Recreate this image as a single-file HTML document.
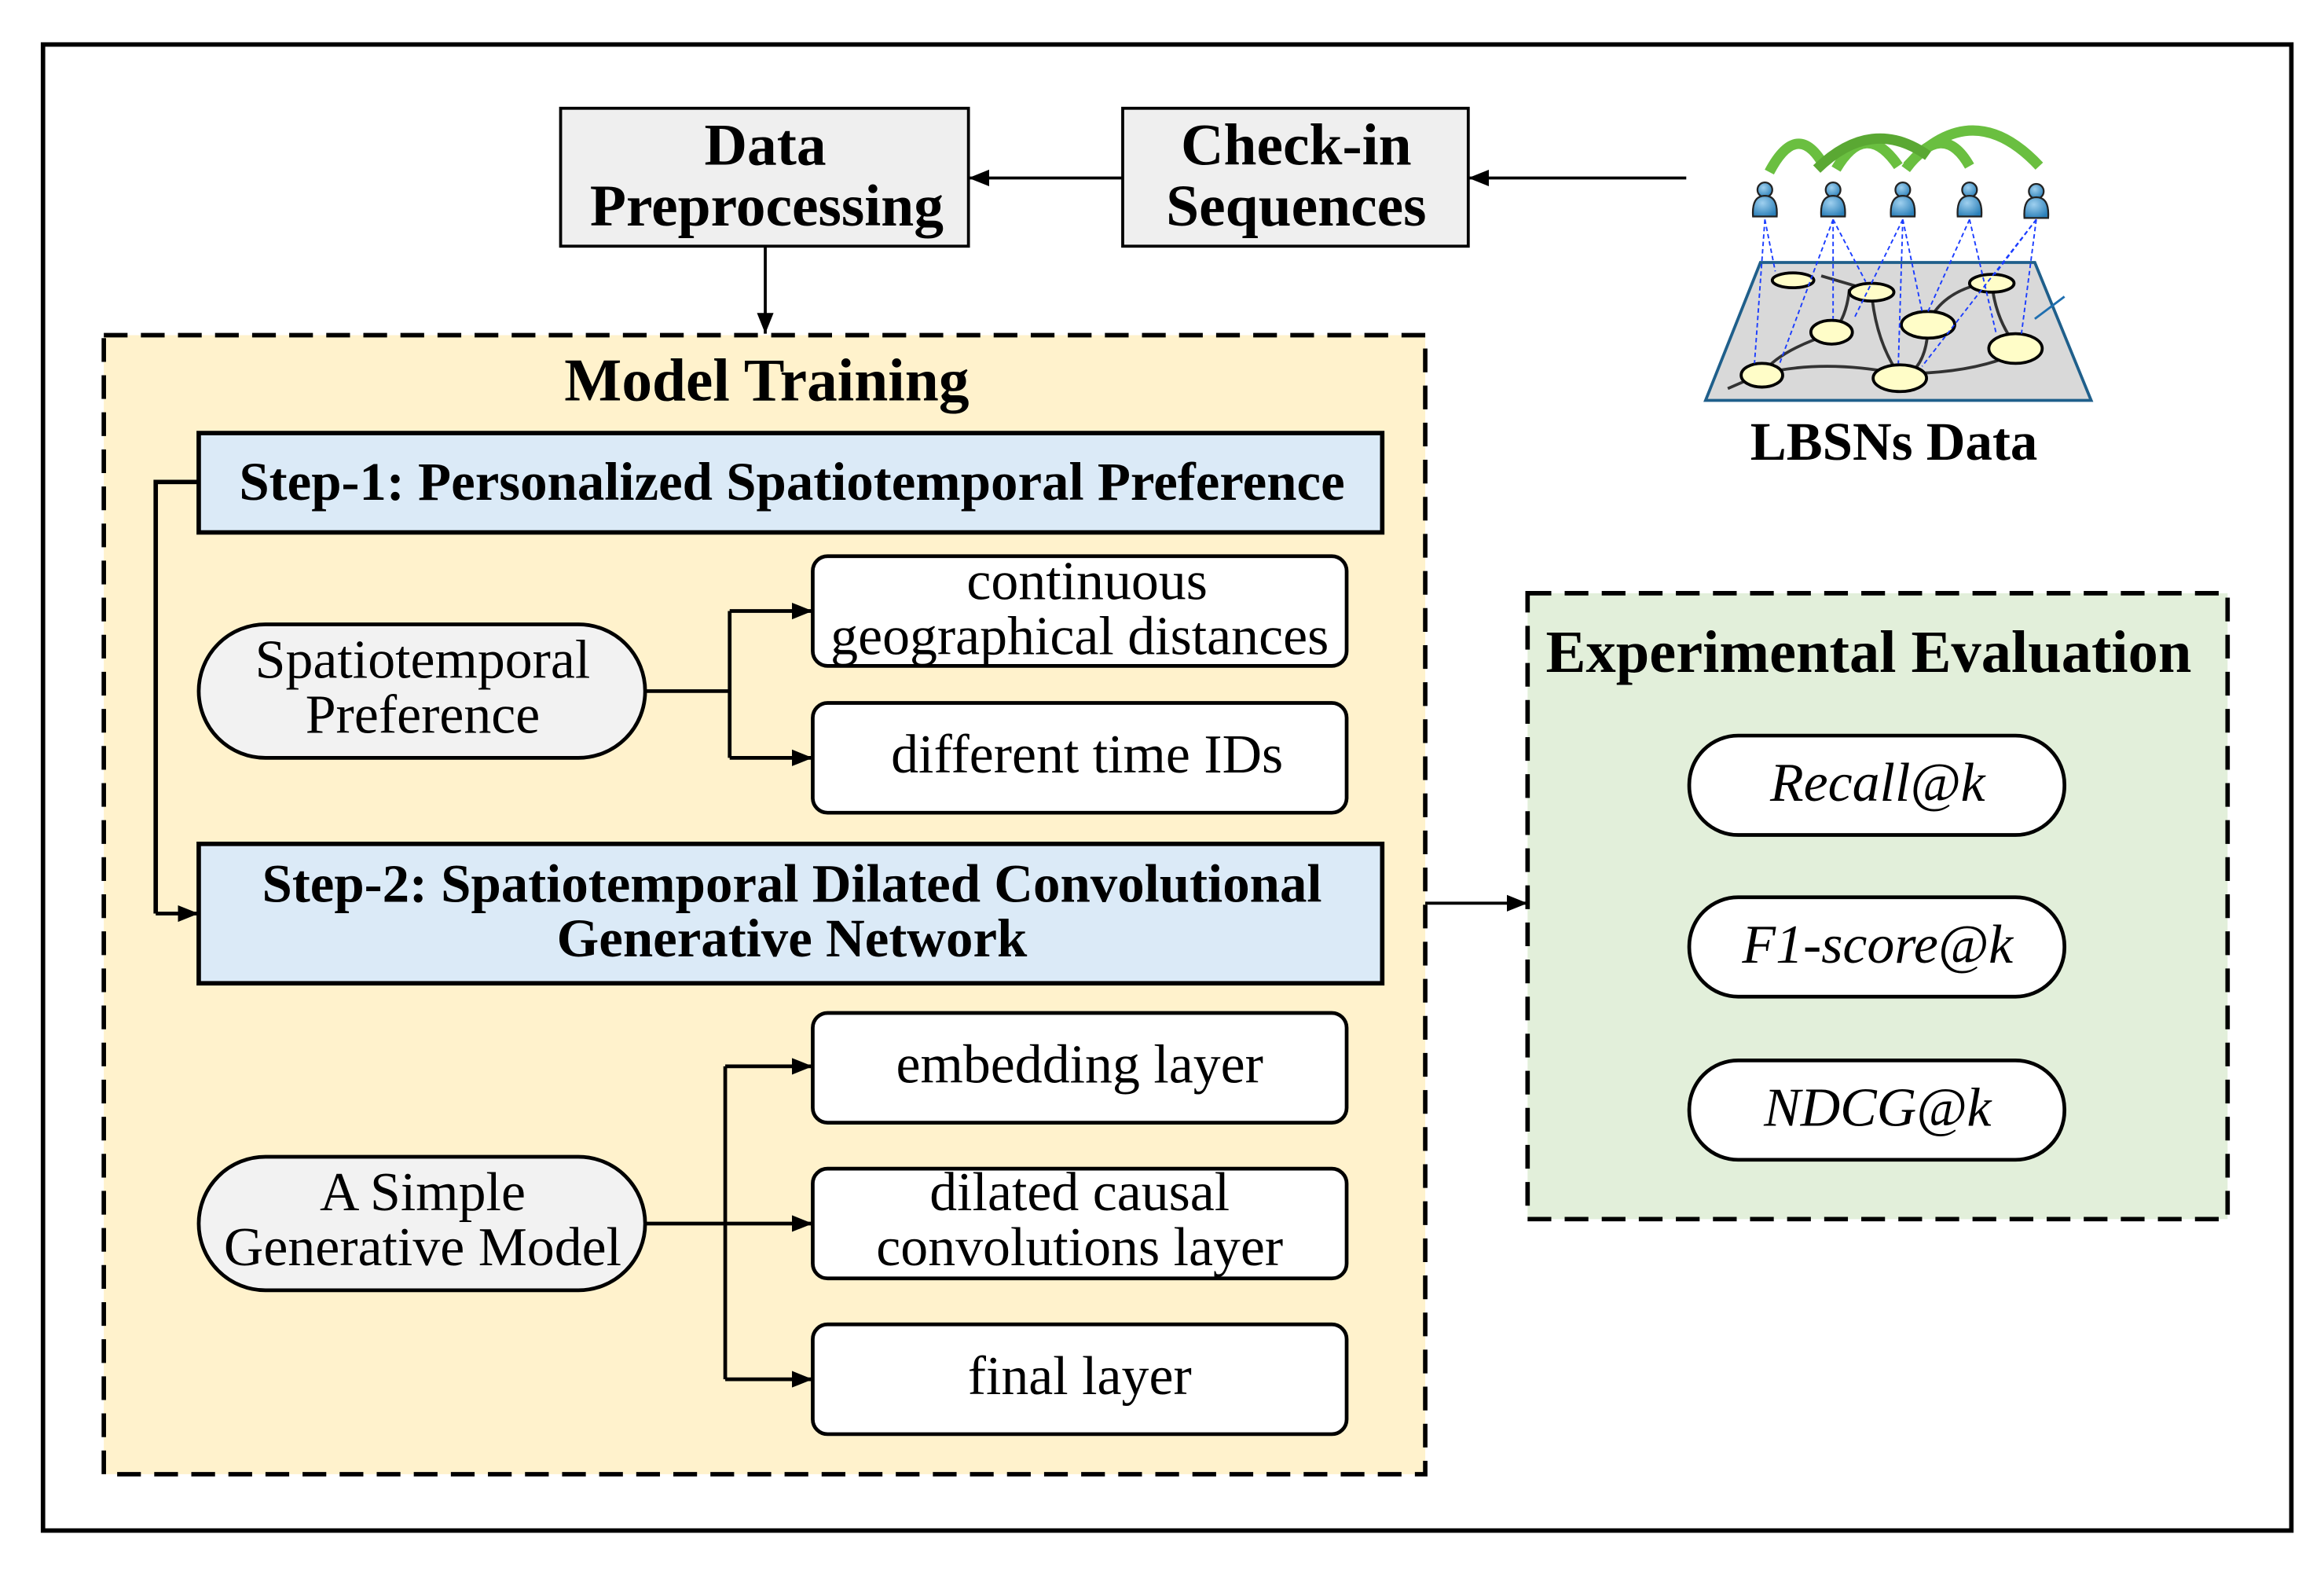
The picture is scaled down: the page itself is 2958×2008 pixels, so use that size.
<!DOCTYPE html>
<html><head><meta charset="utf-8"><style>
html,body{margin:0;padding:0;background:#fff;}
svg{display:block;}
text{font-family:"Liberation Serif",serif;fill:#000;}
.b{font-weight:bold;}
</style></head><body>
<svg width="2958" height="2008" viewBox="0 0 1567 1064" preserveAspectRatio="none" xmlns="http://www.w3.org/2000/svg">
<defs>
<marker id="ar2" viewBox="0 0 10 10" refX="10" refY="5" markerWidth="14" markerHeight="14" orient="auto" markerUnits="userSpaceOnUse"><path d="M0,1 L10,5 L0,9z" fill="#000"/></marker>
<radialGradient id="ug" cx="0.4" cy="0.35" r="0.7"><stop offset="0" stop-color="#9fd0ef"/><stop offset="1" stop-color="#2a7fb8"/></radialGradient>
</defs>
<rect x="29" y="30" width="1516" height="1002" fill="#fff" stroke="#000" stroke-width="3"/>

<rect x="378" y="73" width="275" height="93" fill="#efefef" stroke="#000" stroke-width="2"/>
<text x="516" y="111" text-anchor="middle" font-size="40" class="b">Data</text>
<text x="517" y="152" text-anchor="middle" font-size="40" class="b">Preprocessing</text>
<rect x="757" y="73" width="233" height="93" fill="#efefef" stroke="#000" stroke-width="2"/>
<text x="874" y="111" text-anchor="middle" font-size="40" class="b">Check-in</text>
<text x="874" y="152" text-anchor="middle" font-size="40" class="b">Sequences</text>
<line x1="757" y1="120" x2="653" y2="120" stroke="#000" stroke-width="2" marker-end="url(#ar2)"/>
<line x1="1137" y1="120" x2="990" y2="120" stroke="#000" stroke-width="2" marker-end="url(#ar2)"/>
<line x1="516" y1="166" x2="516" y2="225" stroke="#000" stroke-width="2" marker-end="url(#ar2)"/>

<rect x="70" y="226" width="891" height="768" fill="#fff2cc" stroke="#000" stroke-width="3" stroke-dasharray="16,9"/>
<text x="517" y="270" text-anchor="middle" font-size="41" class="b">Model Training</text>
<rect x="134" y="292" width="798" height="67" fill="#dbeaf7" stroke="#000" stroke-width="3"/>
<text x="534" y="337" text-anchor="middle" font-size="36.5" class="b">Step-1: Personalized Spatiotemporal Preference</text>

<rect x="134" y="421" width="301" height="90" rx="45" fill="#f2f2f2" stroke="#000" stroke-width="2.5"/>
<text x="285" y="457" text-anchor="middle" font-size="37">Spatiotemporal</text>
<text x="285" y="494" text-anchor="middle" font-size="37">Preference</text>
<rect x="548" y="375" width="360" height="74" rx="10" fill="#fff" stroke="#000" stroke-width="2.5"/>
<text x="733" y="404" text-anchor="middle" font-size="37">continuous</text>
<text x="728" y="441" text-anchor="middle" font-size="37">geographical distances</text>
<rect x="548" y="474" width="360" height="74" rx="10" fill="#fff" stroke="#000" stroke-width="2.5"/>
<text x="733" y="521" text-anchor="middle" font-size="37">different time IDs</text>
<path d="M435,466 H492 M492,412 V511" stroke="#000" stroke-width="2.5" fill="none"/>
<line x1="492" y1="412" x2="548" y2="412" stroke="#000" stroke-width="2.5" marker-end="url(#ar2)"/>
<line x1="492" y1="511" x2="548" y2="511" stroke="#000" stroke-width="2.5" marker-end="url(#ar2)"/>

<rect x="134" y="569" width="798" height="94" fill="#dbeaf7" stroke="#000" stroke-width="3"/>
<text x="534" y="608" text-anchor="middle" font-size="36.5" class="b">Step-2: Spatiotemporal Dilated Convolutional</text>
<text x="534" y="645" text-anchor="middle" font-size="36.5" class="b">Generative Network</text>
<path d="M134,325 H105 V616" stroke="#000" stroke-width="3" fill="none"/>
<line x1="105" y1="616" x2="134" y2="616" stroke="#000" stroke-width="2.5" marker-end="url(#ar2)"/>

<rect x="134" y="780" width="301" height="90" rx="45" fill="#f2f2f2" stroke="#000" stroke-width="2.5"/>
<text x="285" y="816" text-anchor="middle" font-size="37">A Simple</text>
<text x="285" y="853" text-anchor="middle" font-size="37">Generative Model</text>
<rect x="548" y="683" width="360" height="74" rx="10" fill="#fff" stroke="#000" stroke-width="2.5"/>
<text x="728" y="730" text-anchor="middle" font-size="37">embedding layer</text>
<rect x="548" y="788" width="360" height="74" rx="10" fill="#fff" stroke="#000" stroke-width="2.5"/>
<text x="728" y="816" text-anchor="middle" font-size="37">dilated causal</text>
<text x="728" y="853" text-anchor="middle" font-size="37">convolutions layer</text>
<rect x="548" y="893" width="360" height="74" rx="10" fill="#fff" stroke="#000" stroke-width="2.5"/>
<text x="728" y="940" text-anchor="middle" font-size="37">final layer</text>
<path d="M435,825 H489 M489,719 V930" stroke="#000" stroke-width="2.5" fill="none"/>
<line x1="489" y1="719" x2="548" y2="719" stroke="#000" stroke-width="2.5" marker-end="url(#ar2)"/>
<line x1="489" y1="825" x2="548" y2="825" stroke="#000" stroke-width="2.5" marker-end="url(#ar2)"/>
<line x1="489" y1="930" x2="548" y2="930" stroke="#000" stroke-width="2.5" marker-end="url(#ar2)"/>

<line x1="961" y1="609" x2="1030" y2="609" stroke="#000" stroke-width="2" marker-end="url(#ar2)"/>

<rect x="1030" y="400" width="472" height="422" fill="#e2efda" stroke="#000" stroke-width="3" stroke-dasharray="16,9"/>
<text x="1260" y="453" text-anchor="middle" font-size="40.5" class="b">Experimental Evaluation</text>
<rect x="1139" y="496" width="253" height="67" rx="33" fill="#fff" stroke="#000" stroke-width="2.5"/>
<text x="1266" y="540" text-anchor="middle" font-size="37" font-style="italic">Recall@k</text>
<rect x="1139" y="605" width="253" height="67" rx="33" fill="#fff" stroke="#000" stroke-width="2.5"/>
<text x="1266" y="649" text-anchor="middle" font-size="37" font-style="italic">F1-score@k</text>
<rect x="1139" y="715" width="253" height="67" rx="33" fill="#fff" stroke="#000" stroke-width="2.5"/>
<text x="1266" y="759" text-anchor="middle" font-size="37" font-style="italic">NDCG@k</text>

<g>
<g stroke="#6abf40" stroke-width="7" fill="none">
<path d="M1193,116 Q1212,80 1230,112"/><path d="M1238,114 Q1258,80 1280,112"/>
<path d="M1285,114 Q1310,80 1328,112"/><path d="M1286,112 Q1330,64 1375,112"/>
<path d="M1225,114 Q1262,78 1300,105" stroke="#5aa833"/>
</g>
<polygon points="1187,177 1372,177 1410,270 1150,270" fill="#d9d9d9" stroke="#1f5f8b" stroke-width="2"/>
<path d="M1165,262 L1188,252 Q1230,242 1280,252 Q1330,252 1360,238 M1188,252 Q1200,236 1235,225 M1235,225 Q1245,215 1247,195 M1262,198 Q1265,230 1280,252 M1300,218 Q1300,240 1290,250 M1300,218 Q1310,195 1343,190 M1343,190 Q1345,215 1360,234 M1228,186 L1262,196" stroke="#333" stroke-width="2" fill="none"/>
<g stroke="#000" stroke-width="2" fill="#fffdc8">
<ellipse cx="1209" cy="189" rx="14" ry="5"/><ellipse cx="1262" cy="197" rx="15" ry="6"/>
<ellipse cx="1235" cy="224" rx="14" ry="8"/><ellipse cx="1300" cy="219" rx="18" ry="9"/>
<ellipse cx="1343" cy="191" rx="15" ry="6"/><ellipse cx="1359" cy="235" rx="18" ry="10"/>
<ellipse cx="1188" cy="253" rx="14" ry="8"/><ellipse cx="1281" cy="255" rx="18" ry="9"/>
</g>
<g stroke="#1a3cff" stroke-width="1" stroke-dasharray="3,2" fill="none">
<line x1="1190" y1="148" x2="1197" y2="183"/><line x1="1190" y1="148" x2="1183" y2="245"/>
<line x1="1236" y1="148" x2="1236" y2="215"/><line x1="1236" y1="148" x2="1200" y2="245"/><line x1="1236" y1="148" x2="1258" y2="190"/>
<line x1="1283" y1="148" x2="1280" y2="245"/><line x1="1283" y1="148" x2="1250" y2="215"/><line x1="1283" y1="148" x2="1296" y2="210"/>
<line x1="1328" y1="148" x2="1300" y2="210"/><line x1="1328" y1="148" x2="1346" y2="225"/>
<line x1="1373" y1="148" x2="1345" y2="185"/><line x1="1373" y1="148" x2="1363" y2="225"/><line x1="1373" y1="148" x2="1296" y2="247"/>
</g>
<line x1="1372" y1="215" x2="1392" y2="200" stroke="#1f6fb0" stroke-width="1.5"/>
<g fill="url(#ug)" stroke="#222" stroke-width="1.2">
<g transform="translate(1190,0)"><circle cx="0" cy="128" r="5"/><path d="M-8,146 Q-9,132 0,132 Q9,132 8,146Z"/></g>
<g transform="translate(1236,0)"><circle cx="0" cy="128" r="5"/><path d="M-8,146 Q-9,132 0,132 Q9,132 8,146Z"/></g>
<g transform="translate(1283,0)"><circle cx="0" cy="128" r="5"/><path d="M-8,146 Q-9,132 0,132 Q9,132 8,146Z"/></g>
<g transform="translate(1328,0)"><circle cx="0" cy="128" r="5"/><path d="M-8,146 Q-9,132 0,132 Q9,132 8,146Z"/></g>
<g transform="translate(1373,0)"><circle cx="0" cy="129" r="5"/><path d="M-8,147 Q-9,133 0,133 Q9,133 8,147Z"/></g>
</g>
<text x="1277" y="310" text-anchor="middle" font-size="36.5" class="b">LBSNs Data</text>
</g>
</svg>
</body></html>
